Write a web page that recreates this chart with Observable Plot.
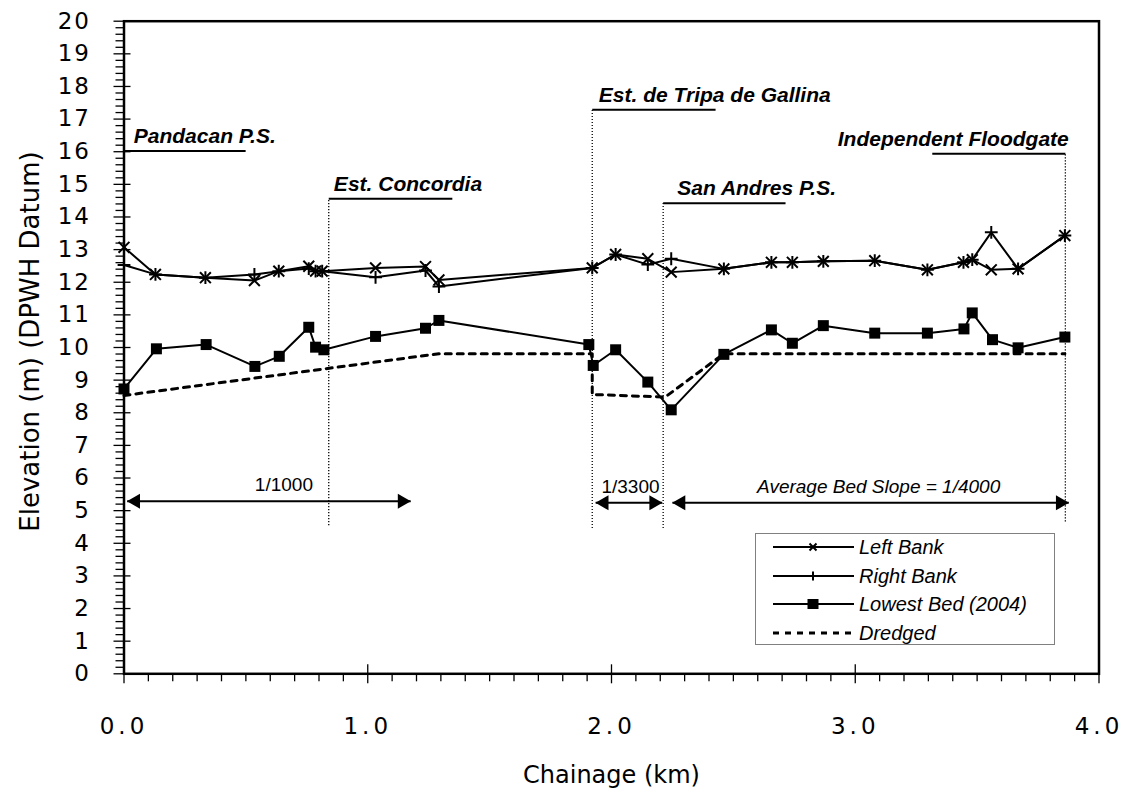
<!DOCTYPE html>
<html>
<head>
<meta charset="utf-8">
<script src="https://cdn.jsdelivr.net/npm/d3@7"></script>
<script src="https://cdn.jsdelivr.net/npm/@observablehq/plot@0.6"></script>
<style>
  html, body { margin: 0; padding: 0; background: white; }
  #wrap { position: relative; width: 1125px; height: 796px; }
  #wrap svg { display: block; }
  g[aria-label="y-axis tick label"] text { letter-spacing: 2px; }
  g[aria-label="x-axis tick label"] text { letter-spacing: 4px; }
  g[aria-label="y-title"] text { letter-spacing: 1.4px; }
  g[aria-label="x-title"] text { letter-spacing: 0.3px; }
  #legend { position: absolute; left: 755px; top: 533px; width: 300px; height: 112px;
            border: 1px solid #808080; background: white; box-sizing: border-box;
            font: italic 20px "Liberation Sans", Arial, sans-serif; color: black; }
  #legend .row { position: absolute; left: 0; height: 24px; }
  #legend .row svg { position: absolute; left: 17px; top: 0; }
  #legend .row span { position: absolute; left: 103px; top: 0; line-height: 24px; white-space: nowrap; }
</style>
</head>
<body>
<div id="wrap"></div>
<script>
// ---- Data ----
const bankX     = [0, 0.129, 0.334, 0.535, 0.635, 0.758, 0.786, 0.813, 1.032, 1.237, 1.292, 1.921, 2.017, 2.149, 2.245, 2.461, 2.656, 2.742, 2.869, 3.080, 3.296, 3.444, 3.480, 3.558, 3.668, 3.860];
const leftBank  = [13.07, 12.24, 12.14, 12.05, 12.34, 12.49, 12.34, 12.34, 12.44, 12.48, 12.07, 12.44, 12.85, 12.72, 12.31, 12.41, 12.61, 12.61, 12.64, 12.66, 12.38, 12.61, 12.69, 12.38, 12.41, 13.43];
const rightBank = [12.53, 12.24, 12.14, 12.24, 12.34, 12.42, 12.34, 12.34, 12.15, 12.36, 11.87, 12.44, 12.85, 12.54, 12.72, 12.41, 12.61, 12.61, 12.64, 12.66, 12.38, 12.61, 12.69, 13.53, 12.41, 13.43];

const bedX      = [0, 0.133, 0.337, 0.537, 0.637, 0.758, 0.786, 0.820, 1.032, 1.237, 1.292, 1.907, 1.925, 2.017, 2.149, 2.245, 2.461, 2.656, 2.742, 2.869, 3.080, 3.296, 3.446, 3.480, 3.563, 3.668, 3.860];
const lowestBed = [8.73, 9.96, 10.09, 9.42, 9.73, 10.62, 10.01, 9.93, 10.34, 10.59, 10.83, 10.09, 9.45, 9.93, 8.94, 8.09, 9.79, 10.54, 10.13, 10.67, 10.44, 10.44, 10.57, 11.06, 10.24, 9.99, 10.32];

const dredgedX  = [0, 1.292, 1.921, 1.921, 2.220, 2.461, 3.860];
const dredged   = [8.53, 9.81, 9.81, 8.56, 8.48, 9.81, 9.81];

// Station annotations
const stationNames    = ["Pandacan P.S.", "Est. Concordia", "Est. de Tripa de Gallina", "San Andres P.S.", "Independent Floodgate"];
const stationX        = [0, 0.840, 1.921, 2.212, 3.862];
const stationTop      = [16.02, 14.56, 17.29, 14.42, 15.94];
const stationBottom   = [4.5, 4.54, 4.45, 4.45, 4.65];
const stationBarStart = [0, 0.840, 1.921, 2.212, 3.316];
const stationBarEnd   = [0.499, 1.347, 2.427, 2.714, 3.862];
const stationLabelX   = [0.040, 0.861, 1.948, 2.270, 3.876];
const stationLabelEnd = [false, false, false, false, true];

// Bed slope arrows
const slopeLabels  = ["1/1000", "1/3300", "Average Bed Slope = 1/4000"];
const slopeStart   = [0.013, 1.935, 2.250];
const slopeEnd     = [1.176, 2.208, 3.876];
const slopeY       = [5.29, 5.24, 5.24];
const slopeLabelX  = [0.656, 2.078, 3.096];
const slopeItalic  = [false, false, true];

// Axis ticks
const yMajor = d3.range(0, 21);
const yMinor = d3.range(0, 100).map(i => i * 0.2).filter(v => Math.abs(v - Math.round(v)) > 1e-6);
const xMajor = [0, 1, 2, 3, 4];
const xMinor = d3.range(0, 41).map(i => i / 10).filter((v, i) => i % 10 !== 0);

// ---- Build tables ----
const leftData  = bankX.map((x, i) => ({x, y: leftBank[i]}));
const rightData = bankX.map((x, i) => ({x, y: rightBank[i]}));
const bedData   = bedX.map((x, i) => ({x, y: lowestBed[i]}));
const dredData  = dredgedX.map((x, i) => ({x, y: dredged[i]}));
const stations  = stationNames.map((name, i) => ({
  name, x: stationX[i], top: stationTop[i], bottom: stationBottom[i],
  x1: stationBarStart[i], x2: stationBarEnd[i], lx: stationLabelX[i], end: stationLabelEnd[i]
}));
const slopes = slopeLabels.map((label, i) => ({
  label, x1: slopeStart[i], x2: slopeEnd[i], y: slopeY[i], lx: slopeLabelX[i], italic: slopeItalic[i]
}));

const labelFont = "'Liberation Sans', Arial, sans-serif";

const chart = Plot.plot({
  width: 1125,
  height: 796,
  marginLeft: 123.5,
  marginRight: 26.5,
  marginTop: 20.7,
  marginBottom: 122.7,
  x: {domain: [0, 4]},
  y: {domain: [0, 20]},
  style: {fontFamily: "'DejaVu Sans', sans-serif", fontSize: "23px", background: "white", color: "black", overflow: "visible"},
  marks: [
    // axes: minor ticks, major ticks, labels
    Plot.axisY({ticks: yMinor, tickSize: 8, text: null, strokeWidth: 1.3}),
    Plot.axisY({ticks: yMajor, tickSize: 17, dx: 7, text: null, strokeWidth: 1.3}),
    Plot.axisY({ticks: yMajor, tickSize: 0, tickPadding: 33, fontSize: 23, tickFormat: d => String(d)}),
    Plot.axisX({ticks: xMinor, tickSize: 8, text: null, strokeWidth: 1.3}),
    Plot.axisX({ticks: xMajor, tickSize: 19, dy: -9, text: null, strokeWidth: 1.3}),
    Plot.axisX({ticks: xMajor, tickSize: 0, tickPadding: 44, fontSize: 23, tickFormat: d => d.toFixed(1)}),
    Plot.text(["Elevation (m) (DPWH Datum)"], {frameAnchor: "left", rotate: -90, dx: -93, dy: -6, textAnchor: "middle", lineAnchor: "middle", fontSize: 26, ariaLabel: "y-title"}),
    Plot.text(["Chainage (km)"], {frameAnchor: "bottom", dy: 102, textAnchor: "middle", lineAnchor: "middle", fontSize: 24, ariaLabel: "x-title"}),

    // station markers
    Plot.ruleX(stations, {x: "x", y1: "bottom", y2: "top", strokeDasharray: "1.2,1.8", strokeWidth: 1.3}),
    Plot.link(stations, {x1: "x1", x2: "x2", y1: "top", y2: "top", strokeWidth: 2}),
    Plot.text(stations.filter(d => !d.end), {x: "lx", y: "top", text: "name", textAnchor: "start", lineAnchor: "bottom", dy: -8,
      fontFamily: labelFont, fontWeight: "bold", fontStyle: "italic", fontSize: 21}),
    Plot.text(stations.filter(d => d.end), {x: "lx", y: "top", text: "name", textAnchor: "end", lineAnchor: "bottom", dy: -8,
      fontFamily: labelFont, fontWeight: "bold", fontStyle: "italic", fontSize: 21}),

    // slope arrows
    Plot.link(slopes, {x1: "x1", x2: "x2", y1: "y", y2: "y", strokeWidth: 2}),
    Plot.dot(slopes, {x: "x2", y: "y", symbol: "triangle", r: 5.6, rotate: 90, fill: "black", stroke: "none", dx: -8.5}),
    Plot.dot(slopes, {x: "x1", y: "y", symbol: "triangle", r: 5.6, rotate: -90, fill: "black", stroke: "none", dx: 8.5}),
    Plot.text(slopes.filter(d => !d.italic), {x: "lx", y: "y", text: "label", lineAnchor: "bottom", dy: -10, fontFamily: labelFont, fontSize: 19}),
    Plot.text(slopes.filter(d => d.italic), {x: "lx", y: "y", text: "label", lineAnchor: "bottom", dy: -10, fontFamily: labelFont, fontSize: 19, fontStyle: "italic"}),

    // data
    Plot.line(dredData, {x: "x", y: "y", stroke: "black", strokeWidth: 3, strokeDasharray: "6,6"}),
    Plot.line(leftData, {x: "x", y: "y", stroke: "black", strokeWidth: 2}),
    Plot.line(rightData, {x: "x", y: "y", stroke: "black", strokeWidth: 2}),
    Plot.line(bedData, {x: "x", y: "y", stroke: "black", strokeWidth: 2}),
    Plot.dot(leftData, {x: "x", y: "y", symbol: "times", r: 5, stroke: "black", strokeWidth: 2}),
    Plot.dot(rightData, {x: "x", y: "y", symbol: "plus", r: 4.2, stroke: "black", strokeWidth: 2}),
    Plot.dot(bedData, {x: "x", y: "y", symbol: "square", r: 6.2, fill: "black", stroke: "none"}),

    Plot.frame({stroke: "black", strokeWidth: 2.5})
  ]
});

const wrap = document.getElementById("wrap");
wrap.appendChild(chart);

// legend
const legendItems = [
  {label: "Left Bank", marker: "times", dash: null},
  {label: "Right Bank", marker: "plus", dash: null},
  {label: "Lowest Bed (2004)", marker: "square", dash: null},
  {label: "Dredged", marker: null, dash: "6,6"}
];
const rowCenters = [13, 41.5, 70, 98.5];
const legend = document.createElement("div");
legend.id = "legend";
legendItems.forEach((item, i) => {
  const row = document.createElement("div");
  row.className = "row";
  row.style.top = (rowCenters[i] - 12) + "px";
  let m = "";
  if (item.marker === "times") m = '<path d="M36.5,8.5L43.5,15.5M43.5,8.5L36.5,15.5" stroke="black" stroke-width="2"/>';
  if (item.marker === "plus") m = '<path d="M40,7.5L40,16.5" stroke="black" stroke-width="2"/>';
  if (item.marker === "square") m = '<rect x="34.5" y="7" width="11" height="10" fill="black"/>';
  row.innerHTML = `<svg width="82" height="24"><line x1="0" x2="81" y1="12" y2="12" stroke="black" stroke-width="${item.dash ? 3 : 2}" ${item.dash ? `stroke-dasharray="${item.dash}"` : ""}/>${m}</svg><span>${item.label}</span>`;
  legend.appendChild(row);
});
wrap.appendChild(legend);
</script>
</body>
</html>
